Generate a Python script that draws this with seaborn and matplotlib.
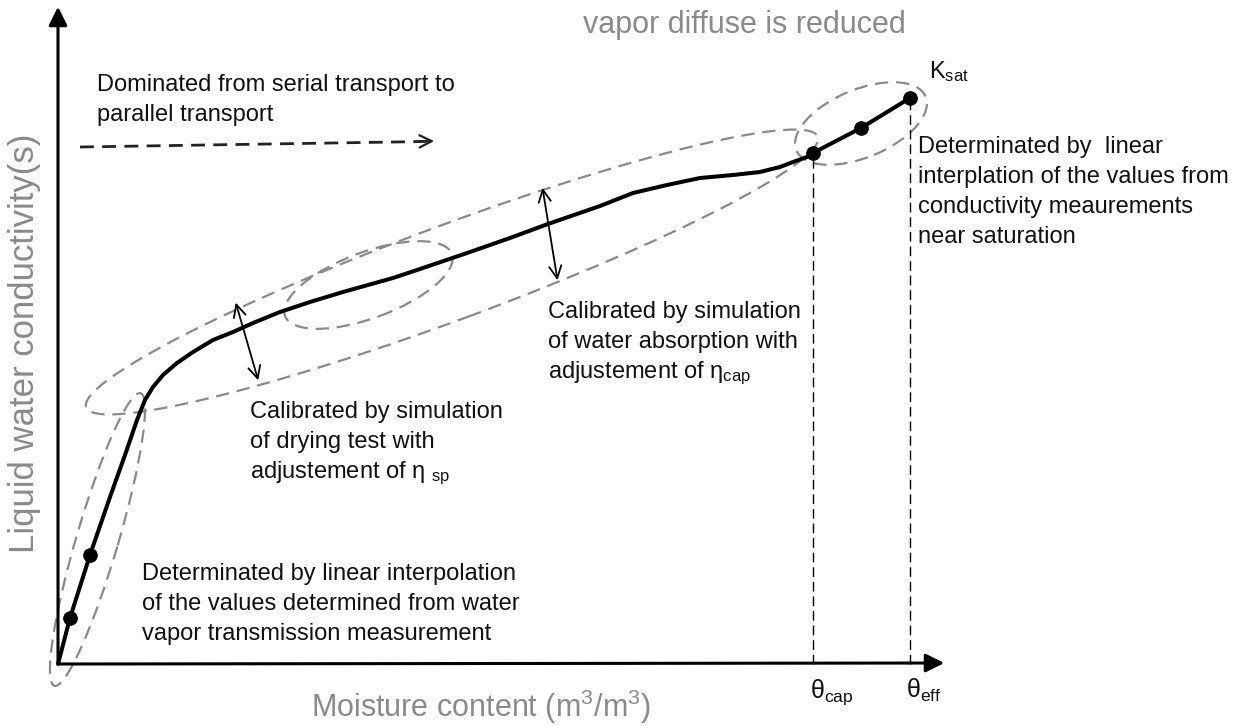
import numpy as np
import pandas as pd
import matplotlib
matplotlib.use("Agg")
import matplotlib.pyplot as plt
from matplotlib.patches import Ellipse
import seaborn as sns

# schematic units: origin of the axes at (0, 0), roughly pixel sized
moisture = [0, 12, 32, 52, 67, 79, 87, 95, 105, 119, 135, 155, 175, 195, 222,
            252, 285, 335, 362, 412, 452, 490, 542, 575, 609, 642, 675, 702,
            722, 735, 749, 755, 803, 852]
conductivity = [0, 46, 109, 167, 209, 244, 264, 277, 289, 301, 312, 324, 332, 341, 352,
                362, 372, 386, 395, 412, 426, 440, 458, 471, 479, 486, 489, 492,
                497, 502, 507, 511, 536, 566]

measured_x = [12, 32, 755, 803, 852]
measured_y = [46, 109, 511, 536, 566]

theta_cap = 755
theta_eff = 852
k_sat = 566

# dashed regions: centre x, centre y, length, width, angle
regions = {
    "vapor": (39.5, 124.5, 305, 42, 73.6),
    "absorption": (394, 392, 780, 95, 20.3),
    "drying": (310.5, 379, 178, 66, 20.4),
    "saturation": (803, 540.5, 140, 68, 22.5),
}

gray = "#8a8a8a"
ink = "#111111"

sns.set_style("white")
plt.rcParams["font.family"] = ["Liberation Sans", "DejaVu Sans"]
plt.rcParams["mathtext.default"] = "regular"

fig = plt.figure(figsize=(12.42, 7.26), dpi=100)
ax = fig.add_axes([0, 0, 1, 1])
ax.set_xlim(-58, 1184)
ax.set_ylim(-62, 664)
ax.axis("off")

# axes arrows
ax.annotate("", xy=(0, 660), xytext=(0, -1),
            arrowprops=dict(arrowstyle="-|>", lw=2.2, color="k", mutation_scale=28))
ax.annotate("", xy=(889, 1), xytext=(-1, 0),
            arrowprops=dict(arrowstyle="-|>", lw=2.2, color="k", mutation_scale=28))

# dashed regions
for name, (cx, cy, w, h, ang) in regions.items():
    ax.add_patch(Ellipse((cx, cy), w, h, angle=ang, fill=False, ec=gray,
                         lw=1.6, linestyle=(0, (6, 3.5))))

# theta guides
ax.plot([theta_cap, theta_cap], [0, measured_y[2]], color="k", lw=1.0,
        linestyle=(0, (7, 3.5)))
ax.plot([theta_eff, theta_eff], [0, k_sat], color="k", lw=1.0,
        linestyle=(0, (7, 3.5)))

# the curve
df = pd.DataFrame({"moisture": moisture, "conductivity": conductivity})
sns.lineplot(data=df, x="moisture", y="conductivity", ax=ax, color="k",
             lw=2.9, sort=False, estimator=None)
pts = pd.DataFrame({"x": measured_x, "y": measured_y})
sns.scatterplot(data=pts, x="x", y="y", ax=ax, color="k", s=95,
                edgecolor="k", zorder=5)
ax.set_xlabel("")
ax.set_ylabel("")

# double arrows
ax.annotate("", xy=(177, 364), xytext=(201, 281),
            arrowprops=dict(arrowstyle="<->", lw=1.3, color="k", mutation_scale=22))
ax.annotate("", xy=(484, 479), xytext=(500, 381),
            arrowprops=dict(arrowstyle="<->", lw=1.3, color="k", mutation_scale=22))

# dashed transport arrow
ax.plot([22, 368], [517, 522.5], color="#222222", lw=2.0, linestyle=(0, (5, 3)))
ax.annotate("", xy=(379, 523), xytext=(355, 522.5),
            arrowprops=dict(arrowstyle="->", lw=1.6, color="#222222", mutation_scale=22))

fs = 17
def lines(x, y, rows, step=30):
    for i, r in enumerate(rows):
        ax.text(x, y - i * step, r, fontsize=fs, color=ink, ha="left", va="baseline")

lines(39, 573, ["Dominated from serial transport to", "parallel transport"])
lines(490, 346, ["Calibrated by simulation", "of water absorption with",
                 "adjustement of η$_{cap}$"])
lines(192, 246, ["Calibrated by simulation", "of drying test with",
                 "adjustement of η $_{sp}$"])
lines(84, 84, ["Determinated by linear interpolation",
               "of the values determined from water",
               "vapor transmission measurement"])
lines(860, 511, ["Determinated by  linear", "interplation of the values from",
                 "conductivity meaurements", "near saturation"])

ax.text(871, 586, "K$_{sat}$", fontsize=fs, color=ink, va="baseline")
ax.text(752, -34, "θ$_{cap}$", fontsize=18, color=ink, va="baseline")
ax.text(848, -34, "θ$_{eff}$", fontsize=18, color=ink, va="baseline")

ax.text(525, 631, "vapor diffuse is reduced", fontsize=22, color=gray, va="baseline")
ax.text(423, -53, "Moisture content (m$^3$/m$^3$)", fontsize=22, color=gray,
        ha="center", va="baseline")
ax.text(-33, 321, "Liquid water conductivity(s)", fontsize=25, color=gray,
        rotation=90, ha="center", va="center")

fig.savefig("out.png", dpi=100)
